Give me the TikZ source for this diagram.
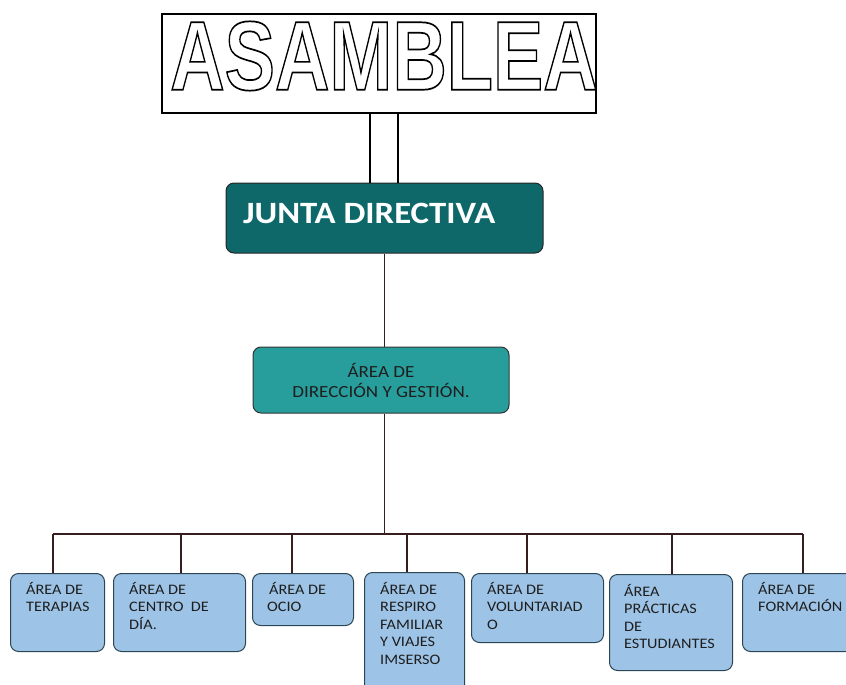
\documentclass[tikz,border=0pt]{standalone}
\usepackage{fontspec}
\setmainfont{Carlito}
\newfontfamily\bigfont{Liberation Sans Bold}
\newfontfamily\widefont{Carlito}[FakeStretch=1.12]
\usepackage{tikz}

\definecolor{juntafill}{RGB}{14,104,106}
\definecolor{dirfill}{RGB}{40,158,156}
\definecolor{areafill}{RGB}{157,195,230}
\definecolor{arealine}{RGB}{45,70,85}
\definecolor{areatext}{RGB}{30,30,30}
\definecolor{linkcol}{RGB}{55,30,30}

\newcommand\outlinetext[1]{\special{pdf:literal direct 1 Tr 1.7 w}#1\special{pdf:literal direct 0 Tr}}

\tikzset{
  link/.style={draw=linkcol, line width=1.2pt},
  areabox/.style={draw=arealine, fill=areafill, rounded corners=8pt, line width=1pt, anchor=north west, inner sep=0pt},
  areatxt/.style={anchor=north west, inner sep=0pt, align=left, text=areatext, font=\widefont\fontsize{14.5}{17.5}\selectfont},
}

\begin{document}
\begin{tikzpicture}[x=1pt, y=-1pt]
  \useasboundingbox (0,0) rectangle (846,685);
  \clip (0,0) rectangle (846,685);

  \node[draw, line width=1.5pt, minimum width=434pt, minimum height=99pt, inner sep=0] (asamblea) at (379,63.5) {};
  \node[inner sep=0] (asambleaTxt) at (384,56) {\scalebox{0.77}[1]{\bigfont\fontsize{98}{98}\selectfont\outlinetext{ASAMBLEA}}};

  \node[draw=black!85, fill=juntafill, rounded corners=8pt, line width=1pt, minimum width=317pt, minimum height=70pt] (junta) at (384.5,218) {};
  \node[anchor=west, inner sep=0, text=white, font=\widefont\fontsize{31}{31}\selectfont\bfseries] (juntaTxt) at (243,213) {JUNTA DIRECTIVA};

  \node[draw=black!80, fill=dirfill, rounded corners=8pt, line width=1pt, minimum width=256pt, minimum height=66pt, align=center, text=areatext, font=\widefont\fontsize{17}{20}\selectfont] (direccion) at (381,380) {ÁREA DE\\DIRECCIÓN Y GESTIÓN.};

  % areas
  \node[areabox, minimum width=94pt, minimum height=78pt] (terapias) at (10,573) {};
  \node[areabox, minimum width=132pt, minimum height=78pt] (centro) at (113,573) {};
  \node[areabox, minimum width=101pt, minimum height=52pt] (ocio) at (252,573) {};
  \node[areabox, minimum width=100pt, minimum height=130pt] (respiro) at (364,572) {};
  \node[areabox, minimum width=132pt, minimum height=69pt] (voluntariado) at (471,573) {};
  \node[areabox, minimum width=123pt, minimum height=96pt] (practicas) at (609,574) {};
  \node[areabox, minimum width=120pt, minimum height=78pt] (formacion) at (742,573) {};

  \node[areatxt] (terapiasTxt) at (26,582) {ÁREA DE\\TERAPIAS};
  \node[areatxt] (centroTxt) at (129,582) {ÁREA DE\\CENTRO~ DE\\DÍA.};
  \node[areatxt] (ocioTxt) at (267,582) {\hspace*{2pt}ÁREA DE\\OCIO};
  \node[areatxt] (respiroTxt) at (380,582) {ÁREA DE\\RESPIRO\\FAMILIAR\\Y VIAJES\\IMSERSO};
  \node[areatxt] (voluntariadoTxt) at (487,582) {ÁREA DE\\VOLUNTARIAD\\O};
  \node[areatxt] (practicasTxt) at (624,584) {ÁREA\\PRÁCTICAS\\DE\\ESTUDIANTES};
  \node[areatxt] (formacionTxt) at (758,582) {ÁREA DE\\FORMACIÓN};

  \coordinate (b1) at (53,534);
  \coordinate (b2) at (181,534);
  \coordinate (b3) at (292,534);
  \coordinate (b4) at (407,534);
  \coordinate (b5) at (527,534);
  \coordinate (b6) at (672,534);
  \coordinate (b7) at (803,534);

  \draw[line width=1.5pt] ([xshift=-9pt]asamblea.south) -- ([xshift=-9pt]asamblea.south |- junta.north);
  \draw[line width=1.5pt] ([xshift=19pt]asamblea.south) -- ([xshift=19pt]asamblea.south |- junta.north);
  \path[link] (junta.south) edge (junta.south |- direccion.north);
  \path[link] (junta.south |- direccion.south) edge (junta.south |- b1);
  \path[link] (b1) edge (b7);
  \path[link] (b1) edge (b1 |- terapias.north);
  \path[link] (b2) edge (b2 |- centro.north);
  \path[link] (b3) edge (b3 |- ocio.north);
  \path[link] (b4) edge (b4 |- respiro.north);
  \path[link] (b5) edge (b5 |- voluntariado.north);
  \path[link] (b6) edge (b6 |- practicas.north);
  \path[link] (b7) edge (b7 |- formacion.north);
\end{tikzpicture}
\end{document}
